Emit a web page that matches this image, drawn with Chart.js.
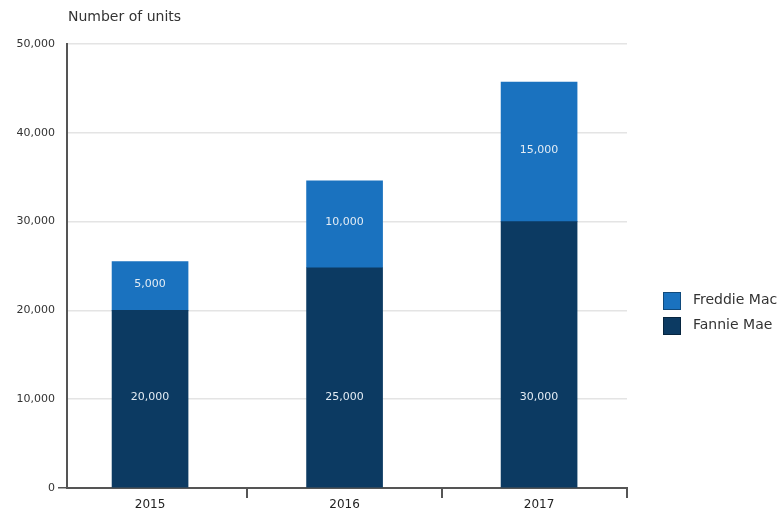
<!DOCTYPE html>
<html>
<head>
<meta charset="utf-8">
<script src="https://cdn.jsdelivr.net/npm/chart.js@4"></script>
<style>
  body { margin: 0; background: #fff; }
  #wrap { width: 783px; height: 516px; }
</style>
</head>
<body>
<div id="wrap"><canvas id="chart" width="783" height="516"></canvas></div>
<script>
var years = ['2015', '2016', '2017']
var fannieMae = [20000, 24800, 30000]
var freddieMac = [5500, 9800, 15700]
var fannieLabels = ['20,000', '25,000', '30,000']
var freddieLabels = ['5,000', '10,000', '15,000']
var yTicks = [0, 10000, 20000, 30000, 40000, 50000]

var FONT = 'DejaVu Sans'

// years sit on integer x positions, separator ticks between them
var xTicks = [0, 0.5, 1, 1.5, 2, 2.452]

function toPoints(values) {
  return values.map(function (v, i) { return { x: i, y: v } })
}

// numbers inside the bars; bottom series all share one height
var barLabels = {
  id: 'barLabels',
  afterDatasetsDraw(chart) {
    var ctx = chart.ctx
    ctx.save()
    ctx.font = '11px ' + FONT
    ctx.fillStyle = '#e3ecf4'
    ctx.textAlign = 'center'
    ctx.textBaseline = 'middle'
    chart.data.datasets.forEach(function (ds, i) {
      var meta = chart.getDatasetMeta(i)
      var lowest = Math.max.apply(null, meta.data.map(function (b) { return (b.y + b.base) / 2 }))
      meta.data.forEach(function (bar, j) {
        var y = i === 0 ? lowest - 2 : (bar.y + bar.base) / 2 - 2
        ctx.fillText(ds.valueLabels[j], bar.x, y)
      })
    })
    ctx.restore()
  }
}

// axis caption and legend on the right
var extras = {
  id: 'extras',
  afterDraw(chart) {
    var ctx = chart.ctx
    var area = chart.chartArea
    ctx.save()
    ctx.fillStyle = '#333'
    ctx.font = '14px ' + FONT
    ctx.textBaseline = 'middle'
    ctx.fillText('Number of units', area.left + 1, 17)

    var items = chart.data.datasets.slice().reverse()
    items.forEach(function (ds, k) {
      var y = 292 + k * 25
      ctx.fillStyle = ds.backgroundColor
      ctx.fillRect(area.right + 36, y, 18, 18)
      ctx.strokeStyle = 'rgba(0,0,0,0.35)'
      ctx.lineWidth = 1
      ctx.strokeRect(area.right + 36.5, y + 0.5, 17, 17)
      ctx.fillStyle = '#333'
      ctx.font = '14px ' + FONT
      ctx.fillText(ds.label, area.right + 66, y + 8)
    })
    ctx.restore()
  }
}

var ctx = document.getElementById('chart').getContext('2d')

var chart = new Chart(ctx, {
  type: 'bar',
  data: {
    datasets: [
      {
        label: 'Fannie Mae',
        data: toPoints(fannieMae),
        valueLabels: fannieLabels,
        backgroundColor: '#0c3a62',
        borderWidth: 0,
        barThickness: 76,
      },
      {
        label: 'Freddie Mac',
        data: toPoints(freddieMac),
        valueLabels: freddieLabels,
        backgroundColor: '#1a72bf',
        borderWidth: 0,
        barThickness: 76,
      },
    ],
  },
  options: {
    responsive: false,
    animation: false,
    layout: {
      padding: { left: 0, right: 156, top: 44, bottom: 0 },
    },
    plugins: {
      legend: { display: false },
      tooltip: { enabled: false },
    },
    scales: {
      x: {
        type: 'linear',
        stacked: true,
        offset: false,
        min: -0.427,
        max: 2.452,
        afterFit: function (s) { s.height = 28 },
        afterBuildTicks: function (s) {
          s.ticks = xTicks.map(function (v) { return { value: v } })
        },
        border: { display: true, color: '#555', width: 2 },
        grid: {
          offset: false,
          drawOnChartArea: false,
          drawTicks: true,
          tickLength: 10,
          tickColor: function (c) {
            if (!c.tick) return '#555'
            return Number.isInteger(c.tick.value) ? 'rgba(0,0,0,0)' : '#555'
          },
          lineWidth: 2,
        },
        ticks: {
          color: '#222',
          padding: 0,
          autoSkip: false,
          maxRotation: 0,
          font: { size: 12, family: FONT },
          callback: function (v) {
            return Number.isInteger(v) ? years[v] : ''
          },
        },
      },
      y: {
        stacked: true,
        min: 0,
        max: 50000,
        afterFit: function (s) { s.width = 67 },
        afterBuildTicks: function (s) {
          s.ticks = yTicks.map(function (v) { return { value: v } })
        },
        border: { display: true, color: '#555', width: 2 },
        grid: {
          color: '#e4e4e4',
          lineWidth: 1.5,
          drawTicks: true,
          tickLength: 9,
          tickColor: function (c) {
            return c.tick && c.tick.value === 0 ? '#555' : 'rgba(0,0,0,0)'
          },
        },
        ticks: {
          color: '#333',
          padding: 3,
          font: { size: 11, family: FONT },
          callback: function (v) { return v.toLocaleString('en-US') },
        },
      },
    },
  },
  plugins: [barLabels, extras],
})
</script>
</body>
</html>
